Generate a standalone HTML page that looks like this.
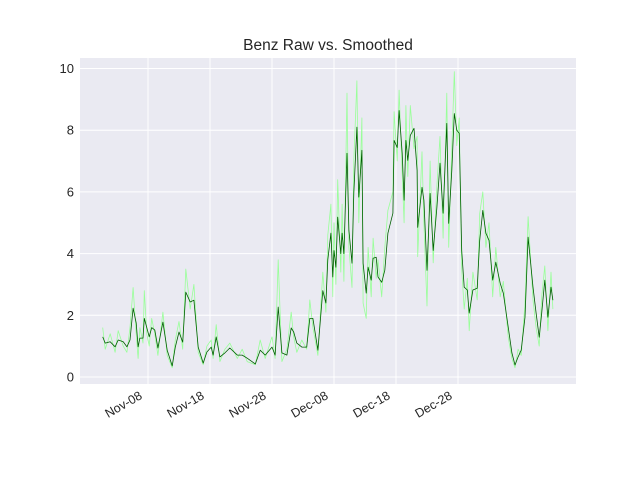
<!DOCTYPE html>
<html><head><meta charset="utf-8"><style>
html,body{margin:0;padding:0;background:#fff;}
svg{display:block;font-family:"Liberation Sans",sans-serif;}
</style></head><body>
<svg id="chart" width="640" height="480">
<text x="328" y="50" text-anchor="middle" font-size="15.5" fill="#262626">Benz Raw vs. Smoothed</text>
<rect x="80" y="58" width="496" height="326" fill="#eaeaf2"/>
<g id="grid"></g><g id="series"></g><g id="ticks"></g>
</svg>
<script>
const xTickLabels = ["Nov-08","Nov-18","Nov-28","Dec-08","Dec-18","Dec-28"];
const xTickDays = [0,10,20,30,40,50];
const yTicks = [0,2,4,6,8,10];
const days = [-7.3,-6.9,-6.1,-5.3,-4.8,-4.0,-3.4,-2.9,-2.4,-1.9,-1.6,-1.3,-0.8,-0.6,-0.2,0.2,0.6,1.1,1.6,2.4,3.1,3.9,4.4,5.0,5.6,6.1,6.8,7.4,8.1,8.9,9.5,10.2,10.5,11.0,11.6,12.4,13.2,14.4,15.2,16.0,17.3,18.1,18.9,20.0,20.5,21.0,21.6,22.4,23.1,23.5,24.0,24.8,25.6,26.1,26.6,27.4,28.2,28.7,29.0,29.5,29.8,30.0,30.3,30.6,31.1,31.3,31.6,32.1,32.4,32.9,33.2,33.7,34.0,34.5,34.7,35.2,35.5,36.0,36.3,36.8,37.1,37.7,38.2,38.7,39.5,39.7,40.2,40.5,41.0,41.3,41.6,41.9,42.3,42.9,43.4,43.5,44.2,44.5,45.0,45.5,46.0,46.6,47.1,47.6,48.2,48.5,49.0,49.4,49.8,50.2,50.6,51.0,51.5,51.8,52.4,53.1,53.5,54.0,54.5,55.0,55.6,56.1,56.8,57.3,58.1,58.7,59.2,59.7,60.2,60.8,61.3,62.1,62.6,63.1,63.5,64.0,64.5,65.0,65.3];
const smoothed = [1.30,1.10,1.14,0.98,1.20,1.14,0.98,1.20,2.23,1.75,0.98,1.26,1.26,1.90,1.60,1.30,1.60,1.52,0.94,1.78,0.87,0.36,0.97,1.46,1.13,2.75,2.43,2.49,0.97,0.45,0.81,0.97,0.71,1.30,0.65,0.78,0.94,0.71,0.71,0.61,0.42,0.87,0.71,0.97,0.71,2.27,0.78,0.71,1.59,1.46,1.10,0.97,0.97,1.90,1.90,0.87,2.80,2.40,3.80,4.66,3.24,4.10,3.56,5.18,4.00,4.66,4.00,7.25,4.76,3.69,5.95,8.10,5.83,7.35,3.69,2.72,3.56,3.14,3.85,3.88,3.24,3.07,3.46,4.66,5.31,7.67,7.44,8.64,7.25,5.73,7.67,7.02,7.83,8.06,6.70,4.85,6.15,5.73,3.46,5.95,4.10,5.50,6.93,5.31,8.22,4.98,6.70,8.54,8.00,7.90,4.10,2.91,2.82,2.07,2.82,2.88,4.43,5.40,4.66,4.43,3.14,3.72,3.04,2.72,1.62,0.78,0.39,0.65,0.87,1.94,4.53,2.91,2.07,1.29,2.07,3.14,1.94,2.91,2.49,2.59];
const raw = [1.6,0.9,1.4,0.8,1.5,1.0,0.8,1.6,2.9,1.4,0.6,1.6,1.1,2.8,1.4,1.0,1.9,1.4,0.7,2.1,0.7,0.3,1.2,1.8,0.9,3.5,2.2,3.0,0.8,0.4,1.0,1.2,0.6,1.7,0.5,0.9,1.1,0.6,0.9,0.5,0.4,1.2,0.6,1.3,0.6,3.8,0.5,0.9,2.1,1.3,0.8,1.2,0.9,2.5,1.6,0.7,3.4,2.1,4.6,5.6,2.6,5.0,3.0,6.4,3.4,5.6,3.1,9.2,4.2,2.9,7.0,9.6,5.0,8.4,2.4,1.9,4.2,2.6,4.5,3.2,3.8,2.6,4.2,5.4,6.0,8.6,7.0,9.3,6.6,5.0,8.8,6.5,8.8,7.4,7.8,3.9,7.3,5.0,2.3,7.0,3.7,6.2,7.8,4.5,9.2,4.2,7.4,9.9,7.5,8.4,3.5,2.2,3.2,1.5,3.4,2.5,5.3,6.0,4.2,5.0,2.6,4.2,2.6,3.1,1.3,0.6,0.3,0.9,0.7,2.4,5.2,2.5,1.6,1.0,2.6,3.6,1.5,3.4,2.2,2.9];

const NS="http://www.w3.org/2000/svg";
function xs(d){return 148+6.2*d;}
function ys(v){return 377-30.85*v;}
function mk(tag,attrs,parent){const e=document.createElementNS(NS,tag);for(const k in attrs)e.setAttribute(k,attrs[k]);parent.appendChild(e);return e;}
const grid=document.getElementById('grid'),ser=document.getElementById('series'),tk=document.getElementById('ticks');
yTicks.forEach(v=>{
  const l=mk('line',{x1:80,x2:576,y1:ys(v),y2:ys(v),stroke:'#fff','stroke-width':1},grid);
  
  
  const t=mk('text',{x:74,y:ys(v)+4.5,'text-anchor':'end','font-size':13,fill:'#262626'},tk);
  t.textContent=v;
  
  
});
xTickDays.forEach((d,i)=>{
  const l=mk('line',{x1:xs(d),x2:xs(d),y1:58,y2:384,stroke:'#fff','stroke-width':1},grid);
  
  
  const t=mk('text',{x:0,y:0,'text-anchor':'end','font-size':12.5,fill:'#262626',transform:`translate(${xs(d)-5},${398}) rotate(-30)`},tk);
  t.textContent=xTickLabels[i];
  
  
});
function line(vals,color,w,name){
  const n=Math.min(days.length,vals.length);
  let p='';for(let i=0;i<n;i++)p+=(i?'L':'M')+xs(days[i]).toFixed(1)+','+ys(vals[i]).toFixed(1);
  const e=mk('path',{d:p,fill:'none',stroke:color,'stroke-width':w,'stroke-linejoin':'round'},ser);
  
  
}
line(raw,'#99ff99',0.8,'raw-series');
line(smoothed,'#005f00',0.8,'smoothed-series');
</script>
</body></html>
